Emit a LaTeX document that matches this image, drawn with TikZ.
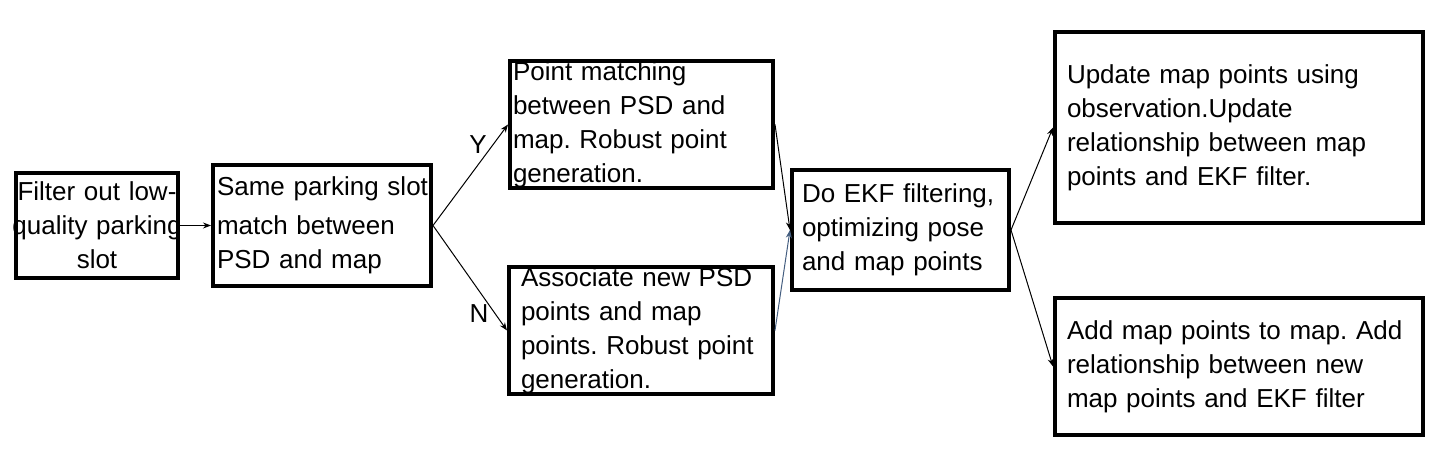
\documentclass[tikz,border=0pt]{standalone}
\usepackage{fontspec}
\setmainfont{Liberation Sans}
\frenchspacing
\usetikzlibrary{arrows.meta}
\definecolor{linkblue}{RGB}{68,94,128}
\tikzset{
  stepbox/.style={draw, line width=4pt, align=left, inner ysep=0pt,
    font=\fontsize{26}{34}\selectfont},
  flow/.style={-{Stealth[length=8pt,width=6pt]}, line width=1pt},
  lab/.style={font=\fontsize{26}{34}\selectfont, inner sep=0pt}
}

\begin{document}
\begin{tikzpicture}[x=1pt,y=-1pt]
	\useasboundingbox (0,0) rectangle (1438,452);
	% boxes
	\node [stepbox, align=center, minimum width=162pt, minimum height=105pt, text width=156pt, inner xsep=3pt] (filt) at (97,225.5) {\makebox[156pt]{Filter out low-}\\\makebox[156pt]{quality parking}\\slot};
	\node [stepbox, minimum width=218pt, minimum height=121pt, text width=210pt, inner xsep=4pt] (same) at (322,225.5) {\mbox{Same parking slot}\\[5pt]match between\\PSD and map};
	\node [stepbox, minimum width=263pt, minimum height=121pt, text width=257pt, inner xsep=3pt] (pm) at (641.5,124.5) {Point matching\\between PSD and\\map. Robust point\\generation.};
	\node [stepbox, minimum width=264pt, minimum height=123pt, text width=240pt, inner xsep=12pt] (assoc) at (641,330.5) {Associate new PSD\\points and map\\points. Robust point\\generation.};
	\node [stepbox, minimum width=217pt, minimum height=120pt, text width=197pt, inner xsep=10pt] (ekf) at (900.5,230) {Do EKF filtering,\\optimizing pose\\and map points};
	\node [stepbox, minimum width=368pt, minimum height=191pt, text width=344pt, inner xsep=12pt] (upd) at (1239,127.5) {Update map points using\\observation.Update\\relationship between map\\points and EKF filter.};
	\node [stepbox, minimum width=368pt, minimum height=137pt, text width=344pt, inner xsep=12pt] (add) at (1239,366.5) {Add map points to map. Add\\relationship between new\\map points and EKF filter};
	% labels
	\node [lab] (ylab) at (478,145) {Y};
	\node [lab] (nlab) at (479,314) {N};
	% connectors
	\draw [flow] (filt.east) -- (same.west);
	\draw [flow] (same.east) -- (pm.west);
	\draw [flow] (same.east) -- (assoc.west);
	\draw [flow] (pm.east) -- (ekf.west);
	\draw [flow, linkblue] (assoc.east) -- (ekf.west);
	\draw [flow] (ekf.east) -- (upd.west);
	\draw [flow] (ekf.east) -- (add.west);
\end{tikzpicture}
\end{document}
